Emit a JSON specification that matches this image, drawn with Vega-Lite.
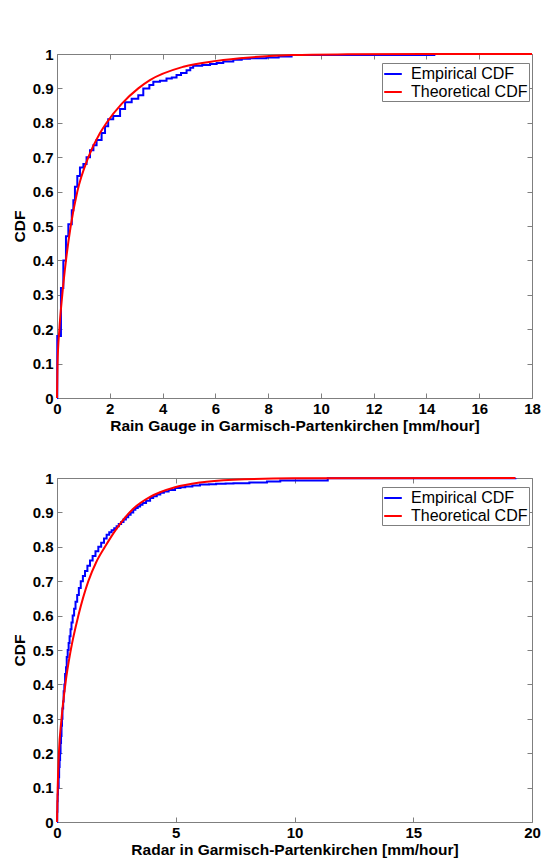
{
  "$schema": "https://vega.github.io/schema/vega-lite/v6.json",
  "background": "white",
  "padding": {"left": 11, "top": 46, "right": 0, "bottom": 0},
  "spacing": 36,
  "config": {
    "font": "Liberation Sans",
    "view": {"stroke": "#7f7f7f", "strokeWidth": 1},
    "axis": {
      "grid": false,
      "domain": false,
      "tickColor": "#7f7f7f",
      "tickSize": -5,
      "labelPadding": 9,
      "labelFont": "Liberation Sans",
      "labelFontSize": 15,
      "labelFontWeight": "bold",
      "labelColor": "black",
      "labelFlush": false,
      "labelOverlap": false,
      "titleFont": "Liberation Sans",
      "titleFontSize": 15.5,
      "titleFontWeight": "bold",
      "titleColor": "black"
    },
    "legend": {
      "orient": "none",
      "legendX": 325,
      "legendY": 9,
      "title": null,
      "strokeColor": "#7f7f7f",
      "fillColor": "white",
      "padding": 1,
      "rowPadding": 0,
      "symbolType": "stroke",
      "symbolSize": 310,
      "symbolStrokeWidth": 2,
      "labelFont": "Liberation Sans",
      "labelFontSize": 16,
      "labelColor": "black",
      "labelOffset": 8
    }
  },
  "datasets": {
    "gauge": [
      {"series": "Empirical CDF", "x": 0, "cdf": 0},
      {"series": "Empirical CDF", "x": 0.01, "cdf": 0.18},
      {"series": "Empirical CDF", "x": 0.15, "cdf": 0.32},
      {"series": "Empirical CDF", "x": 0.24, "cdf": 0.40},
      {"series": "Empirical CDF", "x": 0.34, "cdf": 0.47},
      {"series": "Empirical CDF", "x": 0.43, "cdf": 0.505},
      {"series": "Empirical CDF", "x": 0.56, "cdf": 0.546},
      {"series": "Empirical CDF", "x": 0.62, "cdf": 0.575},
      {"series": "Empirical CDF", "x": 0.68, "cdf": 0.614},
      {"series": "Empirical CDF", "x": 0.77, "cdf": 0.645},
      {"series": "Empirical CDF", "x": 0.87, "cdf": 0.67},
      {"series": "Empirical CDF", "x": 1.0, "cdf": 0.68},
      {"series": "Empirical CDF", "x": 1.12, "cdf": 0.70},
      {"series": "Empirical CDF", "x": 1.25, "cdf": 0.72},
      {"series": "Empirical CDF", "x": 1.38, "cdf": 0.735},
      {"series": "Empirical CDF", "x": 1.5, "cdf": 0.75},
      {"series": "Empirical CDF", "x": 1.69, "cdf": 0.77},
      {"series": "Empirical CDF", "x": 1.82, "cdf": 0.79},
      {"series": "Empirical CDF", "x": 1.94, "cdf": 0.81},
      {"series": "Empirical CDF", "x": 2.13, "cdf": 0.82},
      {"series": "Empirical CDF", "x": 2.39, "cdf": 0.84},
      {"series": "Empirical CDF", "x": 2.58, "cdf": 0.86},
      {"series": "Empirical CDF", "x": 2.83, "cdf": 0.87},
      {"series": "Empirical CDF", "x": 3.08, "cdf": 0.88},
      {"series": "Empirical CDF", "x": 3.27, "cdf": 0.90},
      {"series": "Empirical CDF", "x": 3.5, "cdf": 0.91},
      {"series": "Empirical CDF", "x": 3.65, "cdf": 0.919},
      {"series": "Empirical CDF", "x": 3.9, "cdf": 0.922},
      {"series": "Empirical CDF", "x": 4.15, "cdf": 0.929},
      {"series": "Empirical CDF", "x": 4.35, "cdf": 0.932},
      {"series": "Empirical CDF", "x": 4.53, "cdf": 0.939},
      {"series": "Empirical CDF", "x": 4.7, "cdf": 0.945},
      {"series": "Empirical CDF", "x": 4.91, "cdf": 0.953},
      {"series": "Empirical CDF", "x": 5.05, "cdf": 0.96},
      {"series": "Empirical CDF", "x": 5.16, "cdf": 0.966},
      {"series": "Empirical CDF", "x": 5.5, "cdf": 0.968},
      {"series": "Empirical CDF", "x": 5.8, "cdf": 0.971},
      {"series": "Empirical CDF", "x": 6.05, "cdf": 0.974},
      {"series": "Empirical CDF", "x": 6.3, "cdf": 0.978},
      {"series": "Empirical CDF", "x": 6.68, "cdf": 0.983},
      {"series": "Empirical CDF", "x": 7.0, "cdf": 0.986},
      {"series": "Empirical CDF", "x": 7.31, "cdf": 0.988},
      {"series": "Empirical CDF", "x": 7.94, "cdf": 0.99},
      {"series": "Empirical CDF", "x": 8.4, "cdf": 0.993},
      {"series": "Empirical CDF", "x": 8.89, "cdf": 0.997},
      {"series": "Empirical CDF", "x": 14.3, "cdf": 1.0},
      {"series": "Theoretical CDF", "x": 0, "cdf": 0},
      {"series": "Theoretical CDF", "x": 0.02, "cdf": 0.1},
      {"series": "Theoretical CDF", "x": 0.09, "cdf": 0.2},
      {"series": "Theoretical CDF", "x": 0.2, "cdf": 0.3},
      {"series": "Theoretical CDF", "x": 0.34, "cdf": 0.4},
      {"series": "Theoretical CDF", "x": 0.52, "cdf": 0.5},
      {"series": "Theoretical CDF", "x": 0.77, "cdf": 0.6},
      {"series": "Theoretical CDF", "x": 1.19, "cdf": 0.7},
      {"series": "Theoretical CDF", "x": 1.63, "cdf": 0.77},
      {"series": "Theoretical CDF", "x": 1.88, "cdf": 0.8},
      {"series": "Theoretical CDF", "x": 2.45, "cdf": 0.855},
      {"series": "Theoretical CDF", "x": 3.08, "cdf": 0.9},
      {"series": "Theoretical CDF", "x": 3.52, "cdf": 0.924},
      {"series": "Theoretical CDF", "x": 4.79, "cdf": 0.963},
      {"series": "Theoretical CDF", "x": 6.05, "cdf": 0.98},
      {"series": "Theoretical CDF", "x": 7.31, "cdf": 0.99},
      {"series": "Theoretical CDF", "x": 8.95, "cdf": 0.997},
      {"series": "Theoretical CDF", "x": 11, "cdf": 0.999},
      {"series": "Theoretical CDF", "x": 14, "cdf": 1.0},
      {"series": "Theoretical CDF", "x": 18, "cdf": 1.0}
    ],
    "radar": [
      {"series": "Empirical CDF", "x": 0, "cdf": 0},
      {"series": "Empirical CDF", "x": 0.01, "cdf": 0.03},
      {"series": "Empirical CDF", "x": 0.02, "cdf": 0.06},
      {"series": "Empirical CDF", "x": 0.03, "cdf": 0.08},
      {"series": "Empirical CDF", "x": 0.04, "cdf": 0.1},
      {"series": "Empirical CDF", "x": 0.07, "cdf": 0.13},
      {"series": "Empirical CDF", "x": 0.09, "cdf": 0.16},
      {"series": "Empirical CDF", "x": 0.11, "cdf": 0.18},
      {"series": "Empirical CDF", "x": 0.13, "cdf": 0.2},
      {"series": "Empirical CDF", "x": 0.15, "cdf": 0.23},
      {"series": "Empirical CDF", "x": 0.17, "cdf": 0.25},
      {"series": "Empirical CDF", "x": 0.19, "cdf": 0.28},
      {"series": "Empirical CDF", "x": 0.21, "cdf": 0.3},
      {"series": "Empirical CDF", "x": 0.23, "cdf": 0.33},
      {"series": "Empirical CDF", "x": 0.26, "cdf": 0.35},
      {"series": "Empirical CDF", "x": 0.28, "cdf": 0.38},
      {"series": "Empirical CDF", "x": 0.31, "cdf": 0.4},
      {"series": "Empirical CDF", "x": 0.34, "cdf": 0.43},
      {"series": "Empirical CDF", "x": 0.38, "cdf": 0.45},
      {"series": "Empirical CDF", "x": 0.41, "cdf": 0.48},
      {"series": "Empirical CDF", "x": 0.45, "cdf": 0.5},
      {"series": "Empirical CDF", "x": 0.49, "cdf": 0.52},
      {"series": "Empirical CDF", "x": 0.53, "cdf": 0.54},
      {"series": "Empirical CDF", "x": 0.57, "cdf": 0.56},
      {"series": "Empirical CDF", "x": 0.61, "cdf": 0.58},
      {"series": "Empirical CDF", "x": 0.66, "cdf": 0.6},
      {"series": "Empirical CDF", "x": 0.72, "cdf": 0.62},
      {"series": "Empirical CDF", "x": 0.78, "cdf": 0.64},
      {"series": "Empirical CDF", "x": 0.85, "cdf": 0.66},
      {"series": "Empirical CDF", "x": 0.92, "cdf": 0.68},
      {"series": "Empirical CDF", "x": 1.0, "cdf": 0.7},
      {"series": "Empirical CDF", "x": 1.09, "cdf": 0.715},
      {"series": "Empirical CDF", "x": 1.18, "cdf": 0.73},
      {"series": "Empirical CDF", "x": 1.28, "cdf": 0.745},
      {"series": "Empirical CDF", "x": 1.39, "cdf": 0.76},
      {"series": "Empirical CDF", "x": 1.5, "cdf": 0.773},
      {"series": "Empirical CDF", "x": 1.62, "cdf": 0.787},
      {"series": "Empirical CDF", "x": 1.74, "cdf": 0.8},
      {"series": "Empirical CDF", "x": 1.86, "cdf": 0.812},
      {"series": "Empirical CDF", "x": 1.98, "cdf": 0.824},
      {"series": "Empirical CDF", "x": 2.09, "cdf": 0.835},
      {"series": "Empirical CDF", "x": 2.2, "cdf": 0.842},
      {"series": "Empirical CDF", "x": 2.3, "cdf": 0.848},
      {"series": "Empirical CDF", "x": 2.41, "cdf": 0.854},
      {"series": "Empirical CDF", "x": 2.51, "cdf": 0.86},
      {"series": "Empirical CDF", "x": 2.6, "cdf": 0.866},
      {"series": "Empirical CDF", "x": 2.7, "cdf": 0.872},
      {"series": "Empirical CDF", "x": 2.8, "cdf": 0.879},
      {"series": "Empirical CDF", "x": 2.9, "cdf": 0.886},
      {"series": "Empirical CDF", "x": 3.0, "cdf": 0.893},
      {"series": "Empirical CDF", "x": 3.1, "cdf": 0.9},
      {"series": "Empirical CDF", "x": 3.21, "cdf": 0.908},
      {"series": "Empirical CDF", "x": 3.3, "cdf": 0.913},
      {"series": "Empirical CDF", "x": 3.4, "cdf": 0.917},
      {"series": "Empirical CDF", "x": 3.5, "cdf": 0.922},
      {"series": "Empirical CDF", "x": 3.6, "cdf": 0.927},
      {"series": "Empirical CDF", "x": 3.75, "cdf": 0.934},
      {"series": "Empirical CDF", "x": 3.92, "cdf": 0.942},
      {"series": "Empirical CDF", "x": 4.05, "cdf": 0.947},
      {"series": "Empirical CDF", "x": 4.2, "cdf": 0.952},
      {"series": "Empirical CDF", "x": 4.35, "cdf": 0.957},
      {"series": "Empirical CDF", "x": 4.5, "cdf": 0.961},
      {"series": "Empirical CDF", "x": 4.7, "cdf": 0.965},
      {"series": "Empirical CDF", "x": 4.97, "cdf": 0.971},
      {"series": "Empirical CDF", "x": 5.2, "cdf": 0.973},
      {"series": "Empirical CDF", "x": 5.4, "cdf": 0.975},
      {"series": "Empirical CDF", "x": 5.7, "cdf": 0.978},
      {"series": "Empirical CDF", "x": 6.02, "cdf": 0.981},
      {"series": "Empirical CDF", "x": 6.4, "cdf": 0.982},
      {"series": "Empirical CDF", "x": 6.7, "cdf": 0.983},
      {"series": "Empirical CDF", "x": 7.1, "cdf": 0.984},
      {"series": "Empirical CDF", "x": 7.43, "cdf": 0.985},
      {"series": "Empirical CDF", "x": 8.1, "cdf": 0.987},
      {"series": "Empirical CDF", "x": 8.84, "cdf": 0.99},
      {"series": "Empirical CDF", "x": 9.4, "cdf": 0.993},
      {"series": "Empirical CDF", "x": 11.4, "cdf": 0.999},
      {"series": "Empirical CDF", "x": 19.3, "cdf": 1.0},
      {"series": "Theoretical CDF", "x": 0, "cdf": 0},
      {"series": "Theoretical CDF", "x": 0.03, "cdf": 0.1},
      {"series": "Theoretical CDF", "x": 0.08, "cdf": 0.2},
      {"series": "Theoretical CDF", "x": 0.19, "cdf": 0.3},
      {"series": "Theoretical CDF", "x": 0.35, "cdf": 0.4},
      {"series": "Theoretical CDF", "x": 0.58, "cdf": 0.5},
      {"series": "Theoretical CDF", "x": 0.9, "cdf": 0.6},
      {"series": "Theoretical CDF", "x": 1.32, "cdf": 0.7},
      {"series": "Theoretical CDF", "x": 1.65, "cdf": 0.755},
      {"series": "Theoretical CDF", "x": 2.02, "cdf": 0.8},
      {"series": "Theoretical CDF", "x": 2.51, "cdf": 0.853},
      {"series": "Theoretical CDF", "x": 3.2, "cdf": 0.91},
      {"series": "Theoretical CDF", "x": 3.92, "cdf": 0.945},
      {"series": "Theoretical CDF", "x": 4.97, "cdf": 0.973},
      {"series": "Theoretical CDF", "x": 6.02, "cdf": 0.987},
      {"series": "Theoretical CDF", "x": 7.43, "cdf": 0.995},
      {"series": "Theoretical CDF", "x": 9.95, "cdf": 0.999},
      {"series": "Theoretical CDF", "x": 19.3, "cdf": 1.0}
    ]
  },
  "vconcat": [
    {
      "width": 475,
      "height": 344,
      "data": {"name": "gauge"},
      "layer": [
        {
          "transform": [{"filter": "datum.series === 'Empirical CDF'"}],
          "mark": {"type": "line", "interpolate": "step-after", "strokeWidth": 2},
          "encoding": {
            "x": {"field": "x", "type": "quantitative", "scale": {"domain": [0, 18], "nice": false},
                  "axis": {"orient": "bottom", "values": [0, 2, 4, 6, 8, 10, 12, 14, 16, 18], "title": "Rain Gauge in Garmisch-Partenkirchen [mm/hour]", "labelPadding": 8, "titlePadding": 2}},
            "y": {"field": "cdf", "type": "quantitative", "scale": {"domain": [0, 1], "nice": false},
                  "axis": {"orient": "left", "values": [0, 0.1, 0.2, 0.3, 0.4, 0.5, 0.6, 0.7, 0.8, 0.9, 1], "format": "~g", "title": "CDF", "titlePadding": 5}},
            "color": {"field": "series", "type": "nominal",
                      "scale": {"domain": ["Empirical CDF", "Theoretical CDF"], "range": ["#0000ff", "#ff0000"]}}
          }
        },
        {
          "transform": [{"filter": "datum.series === 'Theoretical CDF'"}],
          "mark": {"type": "line", "interpolate": "monotone", "strokeWidth": 2},
          "encoding": {
            "x": {"field": "x", "type": "quantitative", "scale": {"domain": [0, 18], "nice": false},
                  "axis": {"orient": "top", "values": [0, 2, 4, 6, 8, 10, 12, 14, 16, 18], "labels": false, "title": null}},
            "y": {"field": "cdf", "type": "quantitative", "scale": {"domain": [0, 1], "nice": false},
                  "axis": {"orient": "right", "values": [0, 0.1, 0.2, 0.3, 0.4, 0.5, 0.6, 0.7, 0.8, 0.9, 1], "labels": false, "title": null}},
            "color": {"field": "series", "type": "nominal",
                      "scale": {"domain": ["Empirical CDF", "Theoretical CDF"], "range": ["#0000ff", "#ff0000"]}}
          }
        }
      ],
      "resolve": {"axis": {"x": "independent", "y": "independent"}}
    },
    {
      "width": 475,
      "height": 344,
      "data": {"name": "radar"},
      "layer": [
        {
          "transform": [{"filter": "datum.series === 'Empirical CDF'"}],
          "mark": {"type": "line", "interpolate": "step-after", "strokeWidth": 2},
          "encoding": {
            "x": {"field": "x", "type": "quantitative", "scale": {"domain": [0, 20], "nice": false},
                  "axis": {"orient": "bottom", "values": [0, 5, 10, 15, 20], "title": "Radar in Garmisch-Partenkirchen [mm/hour]", "labelPadding": 8, "titlePadding": 2}},
            "y": {"field": "cdf", "type": "quantitative", "scale": {"domain": [0, 1], "nice": false},
                  "axis": {"orient": "left", "values": [0, 0.1, 0.2, 0.3, 0.4, 0.5, 0.6, 0.7, 0.8, 0.9, 1], "format": "~g", "title": "CDF", "titlePadding": 5}},
            "color": {"field": "series", "type": "nominal",
                      "scale": {"domain": ["Empirical CDF", "Theoretical CDF"], "range": ["#0000ff", "#ff0000"]}}
          }
        },
        {
          "transform": [{"filter": "datum.series === 'Theoretical CDF'"}],
          "mark": {"type": "line", "interpolate": "monotone", "strokeWidth": 2},
          "encoding": {
            "x": {"field": "x", "type": "quantitative", "scale": {"domain": [0, 20], "nice": false},
                  "axis": {"orient": "top", "values": [0, 5, 10, 15, 20], "labels": false, "title": null}},
            "y": {"field": "cdf", "type": "quantitative", "scale": {"domain": [0, 1], "nice": false},
                  "axis": {"orient": "right", "values": [0, 0.1, 0.2, 0.3, 0.4, 0.5, 0.6, 0.7, 0.8, 0.9, 1], "labels": false, "title": null}},
            "color": {"field": "series", "type": "nominal",
                      "scale": {"domain": ["Empirical CDF", "Theoretical CDF"], "range": ["#0000ff", "#ff0000"]}}
          }
        }
      ],
      "resolve": {"axis": {"x": "independent", "y": "independent"}}
    }
  ],
  "resolve": {
    "scale": {"x": "independent", "y": "independent", "color": "independent"},
    "legend": {"color": "independent"}
  }
}
